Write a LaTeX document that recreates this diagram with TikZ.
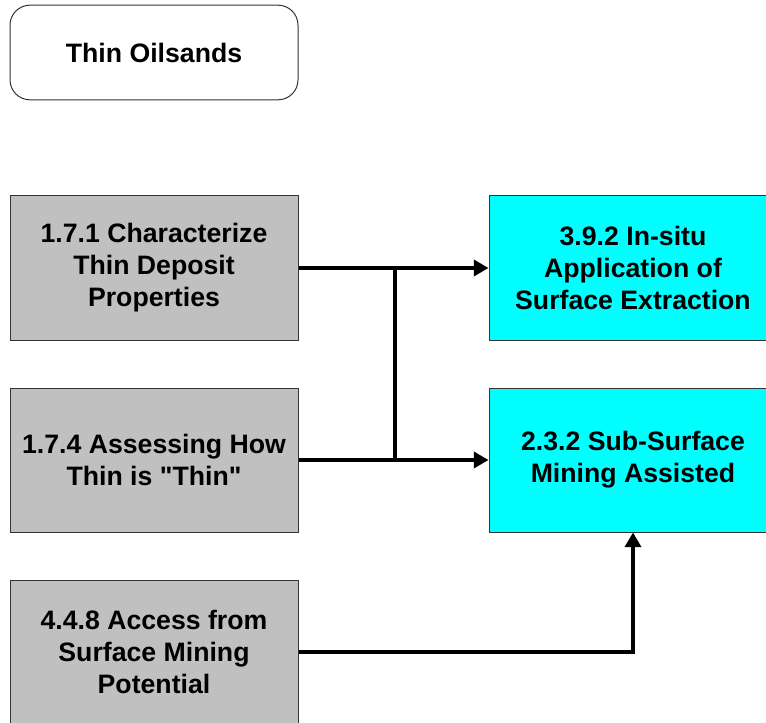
\documentclass[tikz,border=0pt]{standalone}
\usepackage{fontspec}
\setmainfont{Liberation Sans}
\usepackage{tikz}
\usetikzlibrary{arrows.meta}

\definecolor{boxgray}{HTML}{C0C0C0}
\definecolor{boxcyan}{HTML}{00FFFF}

\tikzset{
  task/.style={draw=black!80, line width=0.75pt, rectangle, minimum width=216pt, minimum height=108pt,
    align=center, font=\fontsize{20}{24}\selectfont\bfseries},
  oldtask/.style={task, fill=boxgray},
  newtask/.style={task, fill=boxcyan},
  link/.style={line width=3pt, -{Triangle[length=11pt,width=12pt]}}
}

\begin{document}
\begin{tikzpicture}[x=0.75pt,y=-0.75pt]
      \useasboundingbox (0,0) rectangle (766,723);

      \node[task, rounded corners=15pt, minimum height=71pt] (title) at (154,52.5) {Thin Oilsands};

      \node[oldtask] (charact) at (154,268) {1.7.1 Characterize\\Thin Deposit\\Properties};
      \node[oldtask] (howthin) at (154,460) {1.7.4 Assessing How\\Thin is \textquotedbl Thin\textquotedbl};
      \node[oldtask] (access) at (154,652) {4.4.8 Access from\\Surface Mining\\Potential};

      \node[newtask] (insitu) at (633,268) {3.9.2 In-situ\\Application of\\Surface Extraction};
      \node[newtask] (subsurf) at (633,460) {2.3.2 Sub-Surface\\Mining Assisted};

      \coordinate (top) at (395,268);
      \coordinate (bot) at (395,460);

  \foreach \from/\to in {charact/insitu, howthin/subsurf}
     \draw[link] (\from) -- (\to);

      \draw[line width=3pt] (top) -- (bot);
      \draw[link] (access.east) -| (subsurf.south);

\end{tikzpicture}
\end{document}
